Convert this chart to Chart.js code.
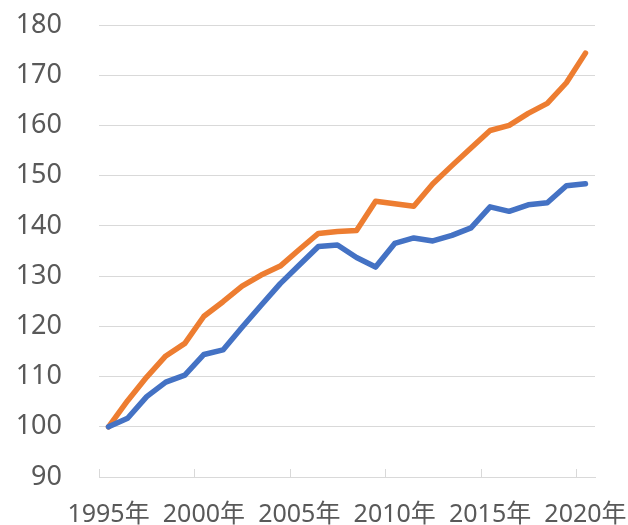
<!DOCTYPE html>
<html>
<head>
<meta charset="utf-8">
<script src="https://cdn.jsdelivr.net/npm/chart.js@4"></script>
<style>
  body { margin: 0; background: #fff; }
</style>
</head>
<body>
<canvas id="chart" width="628" height="525"></canvas>
<script>
// data
const years = [1995, 1996, 1997, 1998, 1999, 2000, 2001, 2002, 2003, 2004, 2005, 2006, 2007,
  2008, 2009, 2010, 2011, 2012, 2013, 2014, 2015, 2016, 2017, 2018, 2019, 2020];
const blueValues = [100, 101.7, 106.0, 108.9, 110.3, 114.4, 115.3, 119.8, 124.2, 128.5, 132.2, 135.9, 136.2,
  133.7, 131.8, 136.5, 137.6, 137.0, 138.1, 139.6, 143.8, 142.9, 144.2, 144.6, 148.0, 148.4];
const orangeValues = [100, 105.2, 109.9, 114.1, 116.6, 122.0, 124.9, 128.0, 130.2, 132.0, 135.3, 138.5, 138.9,
  139.1, 144.9, 144.4, 143.9, 148.4, 152.0, 155.5, 159.0, 160.0, 162.4, 164.4, 168.5, 174.4];
const labels = years.map(y => y + "年");
const yMin = 90, yMax = 180, yStep = 10;

const axisGray = "#d9d9d9";
const textGray = "#595959";

// small tick marks pointing up from the x axis, every 5 categories
const upTicks = {
  id: "upTicks",
  beforeDatasetsDraw(chart) {
    const x = chart.scales.x;
    const half = (x.getPixelForValue(1) - x.getPixelForValue(0)) / 2;
    const ctx = chart.ctx;
    const bottom = chart.chartArea.bottom;
    ctx.save();
    ctx.strokeStyle = axisGray;
    ctx.lineWidth = 1;
    for (let i = 0; i < years.length; i += 5) {
      const px = Math.round(x.getPixelForValue(i) - half) + 0.5;
      ctx.beginPath();
      ctx.moveTo(px, bottom);
      ctx.lineTo(px, bottom - 8);
      ctx.stroke();
    }
    ctx.restore();
  }
};

// keep label overhang from pushing the plot area around
function noPadding(s) {
  s.paddingTop = 0;
  s.paddingBottom = 0;
  s.paddingLeft = 0;
  s.paddingRight = 0;
}

new Chart(document.getElementById("chart"), {
  type: "line",
  data: {
    labels: labels,
    datasets: [
      {
        data: blueValues,
        borderColor: "#4472C4",
        borderWidth: 5.5,
        pointRadius: 0,
        tension: 0,
        borderCapStyle: "round",
        borderJoinStyle: "round",
        fill: false
      },
      {
        data: orangeValues,
        borderColor: "#ED7D31",
        borderWidth: 5.5,
        pointRadius: 0,
        tension: 0,
        borderCapStyle: "round",
        borderJoinStyle: "round",
        fill: false
      }
    ]
  },
  options: {
    responsive: false,
    animation: false,
    layout: { padding: { top: 25, right: 33, bottom: 0, left: 0 } },
    plugins: { legend: { display: false }, tooltip: { enabled: false } },
    scales: {
      x: {
        offset: true,
        grid: { display: false, drawTicks: false },
        border: { display: true, color: axisGray, width: 1 },
        ticks: {
          autoSkip: false,
          maxRotation: 0,
          padding: 23,
          color: textGray,
          font: { family: "'Noto Sans', 'Noto Sans CJK SC'", size: 25 },
          callback: (v, i) => (i % 5 === 0 ? labels[i] : "")
        },
        afterFit: s => { s.height = 48; noPadding(s); }
      },
      y: {
        min: yMin,
        max: yMax,
        grid: { color: axisGray, lineWidth: 1, drawTicks: false },
        border: { display: false },
        ticks: {
          stepSize: yStep,
          padding: 37,
          color: textGray,
          font: { family: "'Noto Sans'", size: 27 }
        },
        afterFit: s => { s.width = 99; noPadding(s); }
      }
    }
  },
  plugins: [upTicks]
});
</script>
</body>
</html>
